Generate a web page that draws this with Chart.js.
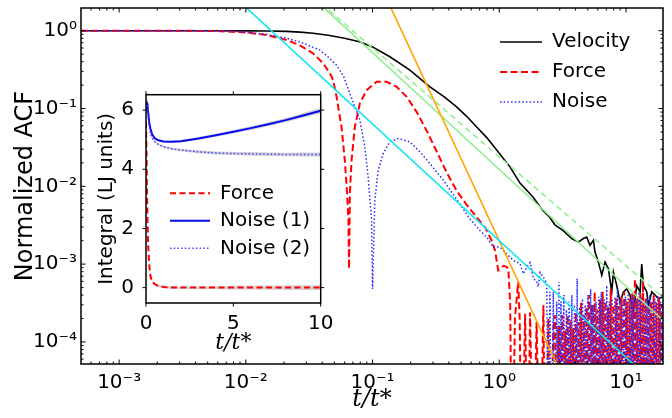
<!DOCTYPE html>
<html>
<head>
<meta charset="utf-8">
<script src="https://cdn.jsdelivr.net/npm/chart.js@4.4.1/dist/chart.umd.min.js"></script>
<style>
  html, body { margin: 0; padding: 0; background: #fff; }
  #wrap { position: relative; width: 672px; height: 418px; }
  #main { position: absolute; left: 0; top: 0; }
  #inset { position: absolute; left: 60px; top: 80px; }
</style>
</head>
<body>
<div id="wrap">
  <canvas id="main" width="672" height="418"></canvas>
  <canvas id="inset" width="300" height="290"></canvas>
</div>
<script>
// ---- main panel data (log-log ACF) ----
const velT = [5e-4, 0.001, 0.003, 0.006, 0.01, 0.0146, 0.0209, 0.0267, 0.034, 0.046, 0.06, 0.079, 0.1, 0.137, 0.197, 0.284, 0.37, 0.461, 0.55, 0.664, 0.8, 0.954, 1.215, 1.457, 1.845, 2.21, 2.5, 2.75, 3.2, 3.73, 4.21, 4.61, 4.9, 5.2, 5.53, 5.7, 6.06, 6.44, 6.84, 7.27, 7.72, 7.96, 8.46, 8.98, 9.55, 10.14, 10.77, 11.45, 12.16, 12.92, 13.32, 13.73, 14.59, 15.03, 15.98, 16.97, 18.0, 19.6];
const velACF = [1, 1, 1, 1, 0.995, 0.99, 0.98, 0.96, 0.93, 0.87, 0.8, 0.72, 0.62, 0.463, 0.312, 0.19, 0.14, 0.105, 0.08, 0.058, 0.042, 0.0292, 0.0178, 0.011, 0.0073, 0.0049, 0.004, 0.0032, 0.0027, 0.00213, 0.00192, 0.00213, 0.00223, 0.00175, 0.00202, 0.00143, 0.00106, 0.00072, 0.00106, 0.00087, 0.00044, 0.00079, 0.00053, 0.000325, 0.00044, 0.00048, 0.0004, 0.00024, 0.00053, 0.00044, 0.001, 0.00053, 0.00044, 0.000295, 0.00044, 0.0004, 0.00036, 0.00038];

const forceT = [5e-4, 0.003, 0.006, 0.0101, 0.0146, 0.0209, 0.0267, 0.034, 0.0408, 0.0461, 0.0489, 0.052, 0.0569, 0.0604, 0.063, 0.0645, 0.0652, 0.0662, 0.0683, 0.0725, 0.0794, 0.0897, 0.1076, 0.129, 0.155, 0.186, 0.223, 0.267, 0.321, 0.385, 0.461, 0.552, 0.664, 0.78, 0.871, 0.925, 0.982, 1.08, 1.14, 1.18, 1.22, 1.26, 1.33, 1.41, 1.45, 1.5, 1.6, 1.68, 1.75, 1.86, 1.97, 2.1, 2.23, 2.3, 2.44, 2.51, 2.67, 2.75, 2.84, 2.92, 2.96,
  3.0, 3.07, 3.15, 3.23, 3.31, 3.39, 3.47, 3.56, 3.65, 3.74, 3.83, 3.92, 4.02, 4.12, 4.22, 4.32, 4.43, 4.54, 4.65, 4.77, 4.89, 5.01, 5.13, 5.26, 5.39, 5.52, 5.66, 5.8, 5.94, 6.09, 6.24, 6.39, 6.55, 6.71, 6.88, 7.05, 7.22, 7.4, 7.58, 7.77, 7.96, 8.16, 8.36, 8.57, 8.78, 9.0, 9.22, 9.45, 9.68, 9.92, 10.16, 10.41, 10.67, 10.93, 11.2, 11.48, 11.76, 12.05, 12.35, 12.66, 12.97, 13.29, 13.62, 13.96, 14.3, 14.65, 15.0, 15.38, 15.76, 16.15, 16.55, 16.96, 17.38, 17.81, 18.25, 18.7, 19.16, 19.6];
const forceACF = [1, 1, 0.99, 0.95, 0.88, 0.76, 0.65, 0.51, 0.38, 0.283, 0.232, 0.1415, 0.058, 0.0217, 0.0081, 0.0037, 0.00087, 0.0081, 0.0217, 0.058, 0.1164, 0.172, 0.221, 0.221, 0.19, 0.1415, 0.09, 0.052, 0.028, 0.015, 0.0088, 0.0058, 0.004, 0.0029, 0.002, 0.0015, 0.00083, 0.00095, 0.00092, 0.00087, 0.0003, 1e-6, 0.0002, 0.00059, 0.0002, 1e-6, 0.00023, 1e-6, 0.00024, 1e-6, 0.00018, 1e-6, 0.000295, 1e-6, 0.0002, 1e-6, 0.00015, 0.00022, 1e-6, 0.00016, 1e-6,
  1.6e-4, 1e-6, 2.2e-4, 1e-6, 1.4e-4, 1e-6, 2.2e-4, 1e-6, 1.9e-4, 1e-6, 1.5e-4, 1e-6, 2.4e-4, 1e-6, 1.8e-4, 1e-6, 3.2e-4, 1e-6, 2.2e-4, 1e-6, 2.8e-4, 1e-6, 4.0e-4, 1e-6, 3.0e-4, 1e-6, 4.4e-4, 1e-6, 2.6e-4, 1e-6, 3.5e-4, 1e-6, 4.4e-4, 1e-6, 3.3e-4, 1e-6, 2.8e-4, 1e-6, 4.8e-4, 1e-6, 3.0e-4, 1e-6, 3.6e-4, 1e-6, 2.9e-4, 1e-6, 3.8e-4, 1e-6, 4.4e-4, 1e-6, 3.3e-4, 1e-6, 3.6e-4, 1e-6, 4.2e-4, 1e-6, 6.5e-4, 1e-6, 3.6e-4, 1e-6, 4.2e-4, 1e-6, 5.9e-4, 1e-6, 3.6e-4, 1e-6, 3.0e-4, 1e-6, 3.3e-4, 1e-6, 4.0e-4, 1e-6, 3.2e-4, 1e-6, 3.6e-4, 1e-6, 3.0e-4, 1e-6];

const noiseT = [5e-4, 0.003, 0.00789, 0.0146, 0.0209, 0.0267, 0.0384, 0.046, 0.052, 0.059, 0.0662, 0.0725, 0.0794, 0.0869, 0.0923, 0.0982, 0.1, 0.1042, 0.1107, 0.1213, 0.137, 0.159, 0.197, 0.237, 0.284, 0.362, 0.461, 0.587, 0.705, 0.795, 0.897, 1.01, 1.14, 1.29, 1.46, 1.55, 1.65, 1.75, 1.86, 1.97, 2.03, 2.1, 2.23, 2.37, 2.44, 2.51, 2.59, 2.67, 2.75, 2.84, 2.92, 2.96,
  3.0, 3.07, 3.15, 3.23, 3.31, 3.39, 3.47, 3.56, 3.65, 3.74, 3.83, 3.92, 4.02, 4.12, 4.22, 4.32, 4.43, 4.54, 4.65, 4.77, 4.89, 5.01, 5.13, 5.26, 5.39, 5.52, 5.66, 5.8, 5.94, 6.09, 6.24, 6.39, 6.55, 6.71, 6.88, 7.05, 7.22, 7.4, 7.58, 7.77, 7.96, 8.16, 8.36, 8.57, 8.78, 9.0, 9.22, 9.45, 9.68, 9.92, 10.16, 10.41, 10.67, 10.93, 11.2, 11.48, 11.76, 12.05, 12.35, 12.66, 12.97, 13.29, 13.62, 13.96, 14.3, 14.65, 15.0, 15.38, 15.76, 16.15, 16.55, 16.96, 17.38, 17.81, 18.25, 18.7, 19.16, 19.6];
const noiseACF = [1, 1, 0.99, 0.9, 0.8, 0.72, 0.565, 0.44, 0.36, 0.26, 0.156, 0.105, 0.071, 0.0321, 0.0132, 0.0037, 0.00048, 0.0066, 0.0161, 0.0264, 0.0373, 0.0412, 0.0373, 0.0277, 0.0195, 0.012, 0.0068, 0.0038, 0.0027, 0.00223, 0.00166, 0.00166, 0.00136, 0.00112, 0.00101, 0.00075, 0.00092, 0.00105, 0.00065, 0.0006, 0.00051, 0.00078, 0.00068, 0.00056, 1e-6, 0.00044, 1e-6, 0.00044, 1e-6, 0.00033, 1e-6, 0.00059,
  1e-6, 3.3e-4, 1e-6, 4.0e-4, 1e-6, 2.6e-4, 1e-6, 3.3e-4, 1e-6, 4.0e-4, 1e-6, 3.0e-4, 1e-6, 6.5e-4, 1e-6, 2.8e-4, 1e-6, 3.6e-4, 1e-6, 3.0e-4, 1e-6, 4.0e-4, 1e-6, 4.8e-4, 1e-6, 3.0e-4, 1e-6, 3.3e-4, 1e-6, 3.8e-4, 1e-6, 4.4e-4, 1e-6, 3.5e-4, 1e-6, 5.3e-4, 1e-6, 3.3e-4, 1e-6, 3.6e-4, 1e-6, 3.8e-4, 1e-6, 4.8e-4, 1e-6, 3.6e-4, 1e-6, 3.3e-4, 1e-6, 3.8e-4, 1e-6, 4.4e-4, 1e-6, 3.6e-4, 1e-6, 4.0e-4, 1e-6, 3.6e-4, 1e-6, 4.4e-4, 1e-6, 3.8e-4, 1e-6, 3.3e-4, 1e-6, 3.6e-4, 1e-6, 4.0e-4, 1e-6, 3.3e-4, 1e-6, 3.6e-4, 1e-6, 4.0e-4, 1e-6, 3.3e-4, 1e-6, 3.5e-4];

// power-law guide lines (end points)
const cyanFitT = [0.005, 20];
const cyanFitY = [5.66, 2.24e-5];
const orangeFitT = [0.1, 4];
const orangeFitY = [6.32, 1.56e-5];
const greenFitT = [0.03, 20];
const greenFitY = [3.18, 1.84e-4];
const greenDashFitT = [0.03, 20];
const greenDashFitY = [3.25, 3.62e-4];

const mainXTicks = [1e-3, 1e-2, 1e-1, 1, 10];
const mainXLabels = ['10\u207B\u00B3', '10\u207B\u00B2', '10\u207B\u00B9', '10\u2070', '10\u00B9'];
const mainYTicks = [1e-4, 1e-3, 1e-2, 1e-1, 1];
const mainYLabels = ['10\u207B\u2074', '10\u207B\u00B3', '10\u207B\u00B2', '10\u207B\u00B9', '10\u2070'];

// ---- inset data (running integrals) ----
const intT = [0, 0.03, 0.06, 0.09, 0.12, 0.18, 0.25, 0.35, 0.5, 0.7, 1.0, 1.5, 2, 3, 4, 5, 6, 7, 8, 9, 10];
const intForce = [5.6, 4.5, 3.2, 2.2, 1.5, 0.8, 0.4, 0.2, 0.12, 0.06, 0.02, 0.005, 0, 0, 0, 0, 0, 0, 0, 0, 0];
const intNoise1 = [6.0, 6.15, 6.22, 6.15, 5.95, 5.6, 5.38, 5.18, 5.05, 4.98, 4.94, 4.93, 4.95, 5.04, 5.15, 5.27, 5.39, 5.52, 5.66, 5.82, 5.98];
const intNoise2 = [6.0, 6.15, 6.2, 6.05, 5.8, 5.45, 5.2, 5.05, 4.93, 4.84, 4.76, 4.69, 4.65, 4.59, 4.55, 4.53, 4.52, 4.51, 4.5, 4.5, 4.5];
const errForce = [0.02, 0.02, 0.02, 0.02, 0.02, 0.03, 0.03, 0.03, 0.03, 0.04, 0.04, 0.04, 0.04, 0.05, 0.05, 0.06, 0.06, 0.07, 0.07, 0.08, 0.08];
const errNoise1 = [0.03, 0.03, 0.03, 0.03, 0.03, 0.03, 0.03, 0.03, 0.03, 0.03, 0.03, 0.04, 0.04, 0.05, 0.05, 0.06, 0.06, 0.07, 0.07, 0.08, 0.09];
const errNoise2 = [0.03, 0.03, 0.03, 0.03, 0.03, 0.03, 0.03, 0.03, 0.03, 0.03, 0.04, 0.04, 0.04, 0.05, 0.05, 0.05, 0.06, 0.06, 0.06, 0.07, 0.07];

const insetXTicks = [0, 5, 10];
const insetYTicks = [0, 2, 4, 6];

Chart.defaults.font.family = "'DejaVu Sans'";
Chart.defaults.color = '#000';

function pts(xs, ys) {
  return xs.map((x, i) => ({ x: x, y: ys[i] }));
}

function logMinors(lo, hi) {
  const out = [];
  for (let e = Math.floor(Math.log10(lo)); e <= Math.ceil(Math.log10(hi)); e++) {
    for (let k = 2; k <= 9; k++) {
      const v = k * Math.pow(10, e);
      if (v > lo && v < hi) out.push(v);
    }
  }
  return out;
}

// white plot area, tick marks on all four sides, and the box
const framePlugin = {
  id: 'frame',
  beforeDraw(chart, args, o) {
    if (!o.white) return;
    const a = chart.chartArea, ctx = chart.ctx;
    ctx.save();
    ctx.fillStyle = '#fff';
    ctx.fillRect(a.left, a.top, a.right - a.left, a.bottom - a.top);
    ctx.restore();
  },
  afterDatasetsDraw(chart, args, o) {
    const ctx = chart.ctx, a = chart.chartArea;
    const sx = chart.scales.x, sy = chart.scales.y;
    const s = o.inward ? 1 : -1;
    ctx.save();
    ctx.strokeStyle = '#000';
    ctx.lineWidth = 1;
    ctx.beginPath();
    const tickX = (vals, len) => vals.forEach(v => {
      const p = sx.getPixelForValue(v);
      ctx.moveTo(p, a.bottom); ctx.lineTo(p, a.bottom - s * len);
      ctx.moveTo(p, a.top); ctx.lineTo(p, a.top + s * len);
    });
    const tickY = (vals, len) => vals.forEach(v => {
      const p = sy.getPixelForValue(v);
      ctx.moveTo(a.left, p); ctx.lineTo(a.left + s * len, p);
      ctx.moveTo(a.right, p); ctx.lineTo(a.right - s * len, p);
    });
    tickX(o.xMajor, o.major);
    tickY(o.yMajor, o.major);
    if (o.xMinor) tickX(o.xMinor, o.minor);
    if (o.yMinor) tickY(o.yMinor, o.minor);
    ctx.stroke();
    ctx.lineWidth = 1.5;
    ctx.strokeRect(a.left, a.top, a.right - a.left, a.bottom - a.top);
    ctx.restore();
  }
};

// move the legend box to a fixed spot inside the axes
const legendSpot = {
  id: 'legendSpot',
  afterLayout(chart, args, o) {
    const lg = chart.legend;
    if (!lg) return;
    lg.left = o.left;
    lg.top = o.top;
    lg.right = o.left + lg.width;
    lg.bottom = o.top + lg.height;
  }
};

function legendLabels(chart) {
  return Chart.defaults.plugins.legend.labels.generateLabels(chart).map(it => {
    const ds = chart.data.datasets[it.datasetIndex];
    it.lineDash = ds.borderDash || [];
    it.lineWidth = ds.borderWidth;
    it.strokeStyle = ds.borderColor;
    return it;
  });
}

function line(label, xs, ys, color, width, dash, order) {
  return {
    label: label,
    data: pts(xs, ys),
    showLine: true,
    borderColor: color,
    backgroundColor: color,
    borderWidth: width,
    borderDash: dash,
    pointRadius: 0,
    order: order
  };
}

// ---------- main chart ----------
new Chart(document.getElementById('main'), {
  type: 'scatter',
  data: {
    datasets: [
      line('Velocity', velT, velACF, '#000000', 1.6, [], 7),
      line('Force', forceT, forceACF, '#ff0000', 2, [7, 3.5], 6),
      line('Noise', noiseT, noiseACF, '#2a2aff', 1.5, [1.5, 2.2], 5),
      line('fit4', greenDashFitT, greenDashFitY, '#90ee90', 1.6, [6, 4], 4),
      line('fit3', greenFitT, greenFitY, '#90ee90', 1.6, [], 3),
      line('fit2', orangeFitT, orangeFitY, '#ffa500', 1.6, [], 2),
      line('fit1', cyanFitT, cyanFitY, '#12e6f2', 1.6, [], 1)
    ]
  },
  options: {
    responsive: false,
    animation: false,
    events: [],
    layout: { padding: { top: 8, right: 9, left: 0, bottom: 0 } },
    scales: {
      x: {
        type: 'logarithmic',
        min: 5e-4,
        max: 19.6,
        grid: { display: false, drawTicks: false },
        border: { display: false },
        afterBuildTicks: s => { s.ticks = mainXTicks.map(v => ({ value: v })); },
        afterFit: s => { s.height = 54; s.paddingLeft = 0; s.paddingRight = 0; },
        ticks: {
          autoSkip: false, maxRotation: 0, padding: 7,
          font: { size: 20 }, color: '#000',
          callback: (v, i) => mainXLabels[i]
        },
        title: {
          display: true, text: 't/t*', color: '#000',
          font: { size: 24, family: "'DejaVu Serif'", style: 'italic' },
          padding: { top: 0, bottom: 4 }
        }
      },
      y: {
        type: 'logarithmic',
        min: 5.2e-5,
        max: 1.96,
        grid: { display: false, drawTicks: false },
        border: { display: false },
        afterBuildTicks: s => { s.ticks = mainYTicks.map(v => ({ value: v })); },
        afterFit: s => { s.width = 81; s.paddingTop = 0; s.paddingBottom = 0; },
        ticks: {
          autoSkip: false, padding: 4,
          font: { size: 20 }, color: '#000',
          callback: (v, i) => mainYLabels[i]
        },
        title: {
          display: true, text: 'Normalized ACF', color: '#000',
          font: { size: 24 },
          padding: { top: 11, bottom: 0 }
        }
      }
    },
    plugins: {
      tooltip: { enabled: false },
      legend: {
        position: 'chartArea',
        align: 'start',
        labels: {
          usePointStyle: true, pointStyle: 'line', pointStyleWidth: 42, padding: 10,
          font: { size: 20 }, color: '#000',
          generateLabels: legendLabels,
          filter: item => item.datasetIndex < 3,
          sort: (a, b) => a.datasetIndex - b.datasetIndex
        }
      },
      legendSpot: { left: 490, top: 22 },
      frame: {
        inward: true, major: 4.5, minor: 2.5,
        xMajor: mainXTicks, yMajor: mainYTicks,
        xMinor: logMinors(5e-4, 19.6), yMinor: logMinors(5.2e-5, 1.96)
      }
    }
  },
  plugins: [framePlugin, legendSpot]
});

// ---------- inset chart ----------
function band(ys, err, up) {
  return ys.map((v, i) => up ? v + err[i] : v - err[i]);
}
function bandSet(ys, err, up) {
  return {
    label: 'band',
    data: pts(intT, band(ys, err, up)),
    showLine: true,
    borderWidth: 0,
    borderColor: 'rgba(0,0,0,0)',
    backgroundColor: 'rgba(150,150,165,0.45)',
    pointRadius: 0,
    fill: up ? '-1' : false,
    order: 10
  };
}

new Chart(document.getElementById('inset'), {
  type: 'scatter',
  data: {
    datasets: [
      line('Force', intT, intForce, '#ff0000', 2, [6, 3.5], 3),
      line('Noise (1)', intT, intNoise1, '#0a0aee', 2, [], 2),
      line('Noise (2)', intT, intNoise2, '#4848ff', 1.5, [1.5, 2.2], 1),
      bandSet(intForce, errForce, false),
      bandSet(intForce, errForce, true),
      bandSet(intNoise1, errNoise1, false),
      bandSet(intNoise1, errNoise1, true),
      bandSet(intNoise2, errNoise2, false),
      bandSet(intNoise2, errNoise2, true)
    ]
  },
  options: {
    responsive: false,
    animation: false,
    events: [],
    layout: { padding: { top: 14.7, right: 39.3, left: 0, bottom: 0 } },
    scales: {
      x: {
        type: 'linear', min: 0, max: 10,
        grid: { display: false, drawTicks: false },
        border: { display: false },
        afterBuildTicks: s => { s.ticks = insetXTicks.map(v => ({ value: v })); },
        afterFit: s => { s.height = 67; s.paddingLeft = 0; s.paddingRight = 0; },
        ticks: { autoSkip: false, maxRotation: 0, padding: 8.5, font: { size: 20 }, color: '#000' },
        title: {
          display: true, text: 't/t*', color: '#000',
          font: { size: 22, family: "'DejaVu Serif'", style: 'italic' },
          padding: { top: 0, bottom: 14 }
        }
      },
      y: {
        type: 'linear', min: -0.52, max: 6.52,
        grid: { display: false, drawTicks: false },
        border: { display: false },
        afterBuildTicks: s => { s.ticks = insetYTicks.map(v => ({ value: v })); },
        afterFit: s => { s.width = 86; s.paddingTop = 0; s.paddingBottom = 0; },
        ticks: { autoSkip: false, padding: 12, font: { size: 20 }, color: '#000' },
        title: {
          display: true, text: 'Integral (LJ units)', color: '#000',
          font: { size: 20 },
          padding: { top: 35, bottom: 0 }
        }
      }
    },
    plugins: {
      tooltip: { enabled: false },
      legend: {
        position: 'chartArea',
        align: 'start',
        labels: {
          usePointStyle: true, pointStyle: 'line', pointStyleWidth: 40, padding: 7.5,
          font: { size: 20 }, color: '#000',
          generateLabels: legendLabels,
          filter: item => item.datasetIndex < 3,
          sort: (a, b) => a.datasetIndex - b.datasetIndex
        }
      },
      legendSpot: { left: 102.5, top: 95.8 },
      frame: {
        white: true, inward: false, major: 3.5,
        xMajor: insetXTicks, yMajor: insetYTicks
      }
    }
  },
  plugins: [framePlugin, legendSpot]
});
</script>
</body>
</html>
